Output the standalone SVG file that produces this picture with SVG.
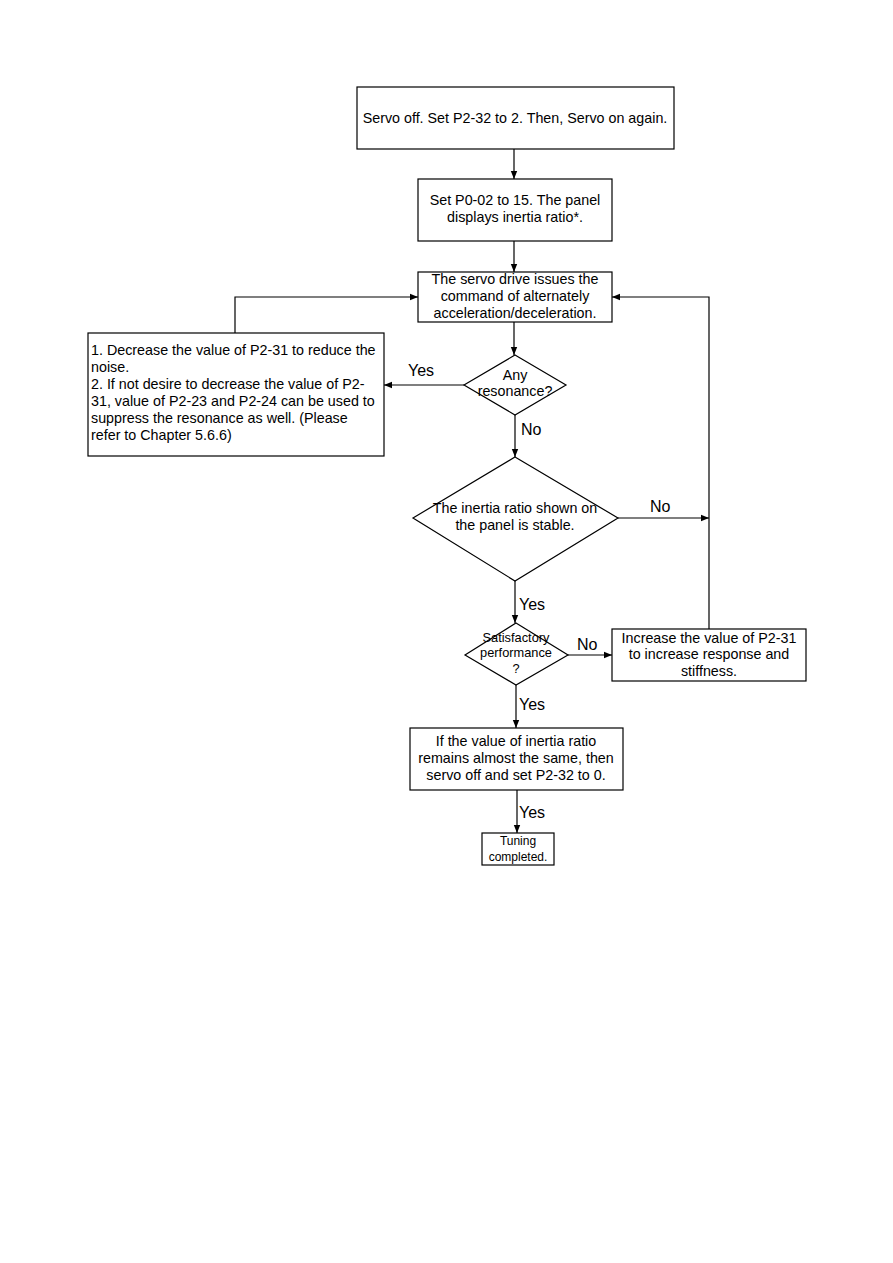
<svg xmlns="http://www.w3.org/2000/svg" width="893" height="1263" viewBox="0 0 893 1263">
<style>
.b{fill:#fff;stroke:#000;stroke-width:1.2}
.t{font-family:"Liberation Sans",Arial,sans-serif;font-size:14.3px;fill:#000;text-anchor:middle}
.l{text-anchor:start}
.s{font-size:12.8px}
.xs{font-size:12px}
.lab{font-family:"Liberation Sans",Arial,sans-serif;font-size:16px;fill:#000}
.c{fill:none;stroke:#000;stroke-width:1.2}
</style>
<defs>
<marker id="ah" viewBox="0 0 10 10" refX="10" refY="5" markerWidth="8" markerHeight="8" markerUnits="userSpaceOnUse" orient="auto">
<path d="M0,1 L10,5 L0,9 z" fill="#000"/>
</marker>
</defs>
<rect width="893" height="1263" fill="#fff"/>
<g id="connectors">
<path class="c" d="M514,149 V179" marker-end="url(#ah)"/>
<path class="c" d="M514,241 V272" marker-end="url(#ah)"/>
<path class="c" d="M514,322 V355" marker-end="url(#ah)"/>
<path class="c" d="M464,385 H384" marker-end="url(#ah)"/>
<path class="c" d="M235,333 V297 H418" marker-end="url(#ah)"/>
<path class="c" d="M515,415 V457" marker-end="url(#ah)"/>
<path class="c" d="M618,518 H709" marker-end="url(#ah)"/>
<path class="c" d="M709,629 V297 H612" marker-end="url(#ah)"/>
<path class="c" d="M515,581 V623" marker-end="url(#ah)"/>
<path class="c" d="M568,655 H612" marker-end="url(#ah)"/>
<path class="c" d="M516,685 V728" marker-end="url(#ah)"/>
<path class="c" d="M517,790 V833" marker-end="url(#ah)"/>
<text class="lab" x="408" y="376">Yes</text>
<text class="lab" x="521" y="435">No</text>
<text class="lab" x="650" y="512">No</text>
<text class="lab" x="519" y="610">Yes</text>
<text class="lab" x="577" y="650">No</text>
<text class="lab" x="519" y="710">Yes</text>
<text class="lab" x="519" y="818">Yes</text>
</g>
<g id="n1">
<rect class="b" x="357" y="87" width="317" height="62"/>
<text class="t" x="515" y="123">Servo off. Set P2-32 to 2. Then, Servo on again.</text>
</g>
<g id="n2">
<rect class="b" x="418" y="179" width="194" height="62"/>
<text class="t" x="515" y="205">Set P0-02 to 15. The panel</text>
<text class="t" x="515" y="222">displays inertia ratio*.</text>
</g>
<g id="n3">
<rect class="b" x="418" y="272" width="194" height="50"/>
<text class="t" x="515" y="284">The servo drive issues the</text>
<text class="t" x="515" y="301">command of alternately</text>
<text class="t" x="515" y="318">acceleration/deceleration.</text>
</g>
<g id="n4">
<rect class="b" x="88" y="333" width="296" height="123"/>
<text class="t l" x="91" y="355">1. Decrease the value of P2-31 to reduce the</text>
<text class="t l" x="91" y="372">noise.</text>
<text class="t l" x="91" y="389">2. If not desire to decrease the value of P2-</text>
<text class="t l" x="91" y="406">31, value of P2-23 and P2-24 can be used to</text>
<text class="t l" x="91" y="423">suppress the resonance as well. (Please</text>
<text class="t l" x="91" y="440">refer to Chapter 5.6.6)</text>
</g>
<g id="d1">
<polygon class="b" points="515,355 566,385 515,415 464,385"/>
<text class="t" x="515" y="380">Any</text>
<text class="t" x="515" y="396">resonance?</text>
</g>
<g id="d2">
<polygon class="b" points="515,457 618,518 515,581 413,518"/>
<text class="t" x="515" y="513">The inertia ratio shown on</text>
<text class="t" x="515" y="530">the panel is stable.</text>
</g>
<g id="d3">
<polygon class="b" points="516,623 568,655 516,685 465,655"/>
<text class="t s" x="516" y="642">Satisfactory</text>
<text class="t s" x="516" y="657">performance</text>
<text class="t s" x="516" y="673">?</text>
</g>
<g id="n5">
<rect class="b" x="612" y="629" width="194" height="52"/>
<text class="t" x="709" y="643">Increase the value of P2-31</text>
<text class="t" x="709" y="659">to increase response and</text>
<text class="t" x="709" y="676">stiffness.</text>
</g>
<g id="n6">
<rect class="b" x="410" y="728" width="213" height="62"/>
<text class="t" x="516" y="746">If the value of inertia ratio</text>
<text class="t" x="516" y="763">remains almost the same, then</text>
<text class="t" x="516" y="780">servo off and set P2-32 to 0.</text>
</g>
<g id="n7">
<rect class="b" x="482" y="833" width="72" height="32"/>
<text class="t xs" x="518" y="845">Tuning</text>
<text class="t xs" x="518" y="861">completed.</text>
</g>
</svg>
